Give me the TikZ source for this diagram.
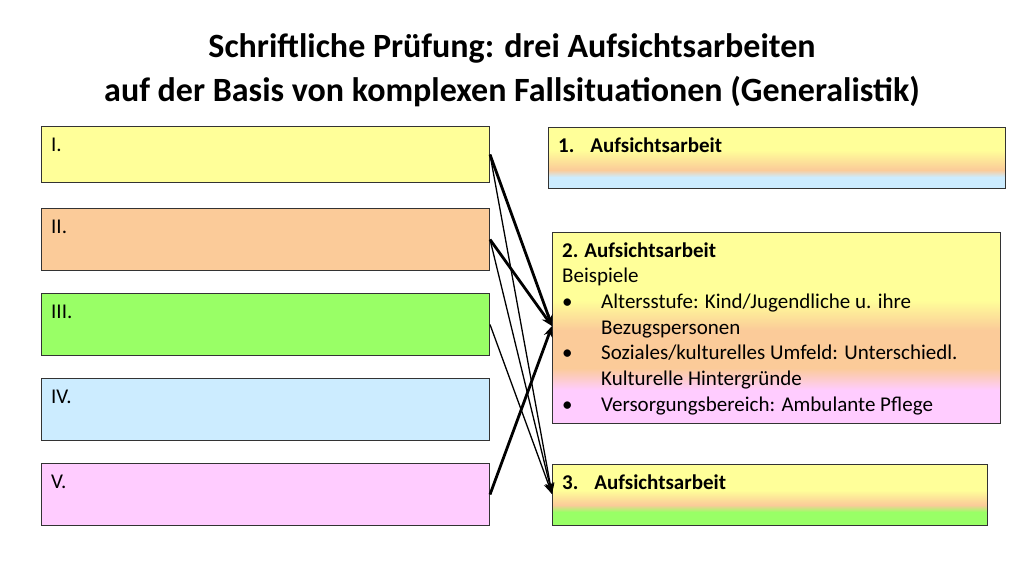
\documentclass[tikz,border=0pt]{standalone}
\usepackage{fontspec}
\setmainfont{Carlito}
\usetikzlibrary{arrows.meta}
\begin{document}
\begin{tikzpicture}[x=1pt,y=-1pt,
  lbox/.style={draw=black!80,line width=1pt},
  lbl/.style={anchor=base west,inner sep=0pt,font=\fontsize{21}{24}\selectfont},
  bl/.style={anchor=base west,inner sep=0pt,font=\fontsize{21}{24}\selectfont\bfseries},
  thk/.style={line width=2.8pt,-{Stealth[length=11pt,width=9pt]}},
  thn/.style={line width=1.3pt,-{Stealth[length=11pt,width=9pt]}}]
\useasboundingbox (0,0) rectangle (1024,576);
\definecolor{cy}{HTML}{FFFF99}\definecolor{co}{HTML}{FBCB99}
\definecolor{cg}{HTML}{99FF66}\definecolor{cb}{HTML}{CCECFF}\definecolor{cp}{HTML}{FFCCFF}
\node[align=center,font=\fontsize{34}{44}\selectfont\bfseries] (title) at (512,70) {Schriftliche Prüfung: drei Aufsichtsarbeiten\\auf der Basis von komplexen Fallsituationen (Generalistik)};
% left boxes
\foreach \n/\t/\b/\c/\s in {I/126/182/cy/I.,II/208/270/co/II.,III/293/355/cg/III.,IV/378/440/cb/IV.,V/463/525/cp/V.}{
  \node[lbox,fill=\c,minimum width=448pt,minimum height={\b-\t},anchor=north west,inner sep=0pt] (\n) at (41,\t) {};
  \node[lbl] (\n t) at (51,\t+25) {\s};
}
% box 1
\fill[cy] (548,127) rectangle (1005,150);
\shade[top color=cy,bottom color=co] (548,150) rectangle (1005,170);
\shade[top color=co,bottom color=cb] (548,170) rectangle (1005,177);
\fill[cb] (548,177) rectangle (1005,188);
\node[lbox,minimum width=457pt,minimum height=61pt,anchor=north west,inner sep=0pt] (A1) at (548,127) {};
\node[bl] (A1t) at (558,152) {1.\hspace{16pt}Aufsichtsarbeit};
% box 2
\fill[cy] (552,232) rectangle (1000,300);
\shade[top color=cy,bottom color=co] (552,300) rectangle (1000,330);
\fill[co] (552,330) rectangle (1000,368);
\shade[top color=co,bottom color=cp] (552,368) rectangle (1000,390);
\fill[cp] (552,390) rectangle (1000,423);
\node[lbox,minimum width=448pt,minimum height=191pt,anchor=north west,inner sep=0pt] (A2) at (552,232) {};
\node[bl] (A2a) at (562,257) {2.\hspace{6pt}Aufsichtsarbeit};
\node[lbl] (A2b) at (562,282) {Beispiele};
\node[lbl] (A2c) at (562,308) {•};
\node[lbl] (A2d) at (601,308) {Altersstufe: Kind/Jugendliche u. ihre};
\node[lbl] (A2e) at (601,334) {Bezugspersonen};
\node[lbl] (A2f) at (562,359) {•};
\node[lbl] (A2g) at (601,359) {Soziales/kulturelles Umfeld: Unterschiedl.};
\node[lbl] (A2h) at (601,385) {Kulturelle Hintergründe};
\node[lbl] (A2i) at (562,411) {•};
\node[lbl] (A2j) at (601,411) {Versorgungsbereich: Ambulante Pflege};
% box 3
\fill[cy] (552,464) rectangle (987,490);
\shade[top color=cy,bottom color=co] (552,490) rectangle (987,505);
\shade[top color=co,bottom color=cg] (552,505) rectangle (987,512);
\fill[cg] (552,512) rectangle (987,525);
\node[lbox,minimum width=435pt,minimum height=61pt,anchor=north west,inner sep=0pt] (A3) at (552,464) {};
\node[bl] (A3t) at (562,489) {3.\hspace{16pt}Aufsichtsarbeit};
% arrows
\coordinate (t2) at (552,326);
\coordinate (t3) at (552,494);
\draw[thk] (I.east) -- (t2);
\draw[thn] (I.east) -- (t3);
\draw[thk] (II.east) -- (t2);
\draw[thn] (II.east) -- (t3);
\draw[thn] (III.east) -- (t3);
\draw[thk] (V.east) -- (t2);
\end{tikzpicture}
\end{document}
